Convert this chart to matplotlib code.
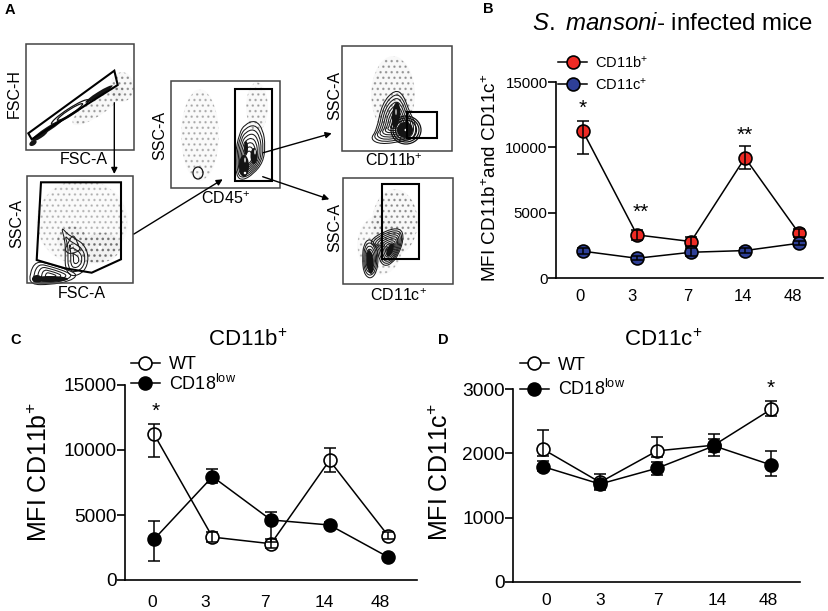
import numpy as np
import matplotlib
matplotlib.use('Agg')
import matplotlib.pyplot as plt
from matplotlib.patches import Ellipse, PathPatch, Polygon, Rectangle
from matplotlib.path import Path

plt.rcParams['font.family'] = ['Liberation Sans', 'DejaVu Sans']
plt.rcParams['mathtext.fontset'] = 'custom'
plt.rcParams['mathtext.rm'] = 'Liberation Sans'
plt.rcParams['mathtext.it'] = 'Liberation Sans:italic'
plt.rcParams['mathtext.bf'] = 'Liberation Sans:bold'
plt.rcParams['mathtext.default'] = 'regular'

W, H = 829, 611

# ---- data ----
days = ['0', '3', '7', '14', '48']
idx = [0, 1, 2, 3, 4]

wt_cd11b = [11220, 3300, 2790, 9200, 3420]
wt_cd11b_lo = [1760, 400, 350, 870, 300]
wt_cd11b_hi = [770, 400, 350, 920, 300]

wt_cd11c_b = [2050, 1510, 1970, 2100, 2660]
wt_cd11c_b_err = [250, 150, 300, 200, 150]

ko_cd11b = [3130, 7950, 4620, 4230, 1770]
ko_cd11b_lo = [1690, 500, 1670, 200, 150]
ko_cd11b_hi = [1410, 590, 640, 200, 150]

wt_cd11c = [2064, 1550, 2038, 2127, 2683]
wt_cd11c_lo = [100, 120, 90, 165, 110]
wt_cd11c_hi = [306, 130, 220, 166, 125]

ko_cd11c = [1794, 1523, 1768, 2116, 1820]
ko_cd11c_lo = [70, 70, 100, 100, 180]
ko_cd11c_hi = [85, 70, 95, 100, 220]

# flow plots of panel A, in picture pixels
flow_boxes = [(26, 44, 134, 150), (27, 176, 133, 283), (171, 81, 280, 188),
              (342, 46, 452, 151), (343, 178, 453, 284)]
gate_fsc = [(28.3, 133.3), (114.3, 70.7), (117.7, 85), (31.7, 139.3)]
gate_ssc = [(41, 182.3), (121, 182.3), (121, 259.3), (91.7, 272.7), (65, 268.3), (36.7, 260)]
gate_cd45 = [(235, 89.3), (272.3, 89.3), (272.3, 181), (235, 181)]
gate_cd11b = [(406.7, 112.3), (437.3, 112.3), (437.3, 138.3), (406.7, 138.3)]
gate_cd11c = [(382.3, 184.3), (419, 184.3), (419, 259.3), (382.3, 259.3)]
gates = [gate_fsc, gate_ssc, gate_cd45, gate_cd11b, gate_cd11c]

flow_arrows = [((114.3, 102.7), (114.3, 174)), ((134, 234), (222.7, 179.3)),
               ((263.3, 152.7), (331.7, 133.3)), ((262.7, 176.7), (329.3, 199.3))]

# speckle clouds: cx, cy, w, h, angle, alpha
clouds = [(98, 106, 62, 18, -35, .5), (122, 87, 24, 30, 0, .6),
          (82, 222, 92, 86, 0, .35), (100, 248, 42, 30, -10, .75), (72, 240, 30, 28, 0, .6),
          (200, 135, 38, 92, 0, .4), (257, 107, 22, 50, 0, .45),
          (393, 95, 44, 78, 0, .55), (395, 222, 46, 66, 0, .6), (380, 245, 46, 60, 0, .35)]

# contour outlines: points, centre, number of rings
contours = [
    ([(240, 135), (245, 127), (255, 123), (262, 132), (264, 147), (262, 162), (253, 173),
      (243, 179), (237, 175), (236, 155)], (248, 160), 8),
    ([(372, 138), (378, 130), (383, 105), (395, 92), (403, 97), (408, 112), (415, 125),
      (413, 137), (402, 140), (382, 143)], (396, 124), 8),
    ([(370, 242), (385, 232), (400, 229), (403, 239), (398, 254), (392, 262), (385, 265),
      (380, 259), (378, 247)], (391, 247), 8),
    ([(364, 246), (369, 240), (375, 245), (378, 258), (376, 272), (370, 278), (364, 272),
      (363, 258)], (370, 260), 6),
    ([(62, 229), (68, 236), (75, 240), (84, 246), (88, 258), (84, 271), (72, 276), (66, 268),
      (66, 255), (66, 242)], (76, 260), 4),
    ([(72, 236), (75, 238), (78, 246), (80, 250), (70, 254), (65, 250), (68, 244)], (71, 247), 2),
    ([(37, 262), (50, 265), (66, 270), (76, 275), (68, 281), (50, 284), (32, 284), (31, 274)], (50, 276), 5),
]
# filled dark parts: cx, cy, w, h, angle
dark_blobs = [(48, 129, 36, 4.5, -33), (40, 136, 18, 4.5, -33), (99, 94, 32, 4.5, -32),
              (33, 143, 8, 5, -33),
              (244, 166, 10, 22, 0), (254, 156, 7, 16, 0), (246, 148, 4, 14, 0),
              (396, 115, 8, 26, 5), (405, 130, 16, 16, 0),
              (370, 262, 7, 24, -5), (390, 250, 6, 14, 20),
              (50, 279, 36, 6, 0), (37, 279, 10, 8, 0)]
white_specks = [(245, 160, 1.5, 5), (245, 173, 2.5, 2.5), (255, 152, 1.5, 5),
                (406, 130, 3, 2.5), (396, 112, 1.2, 6),
                (72, 246, 2, 3), (100, 248, 4, 4), (76, 261, 4, 2.5)]
small_rings = [(198, 173, 10, 12), (406, 130, 30, 28), (406, 130, 26, 24), (406, 130, 21, 20)]
band_rings = [(70, 112, 44, 7), (70, 112, 30, 4.5)]

# labels of panel A: text, x, y, rotation
flow_labels = [('FSC-H', 14, 94, 90), ('FSC-A', 84, 160, 0), ('FSC-A', 82, 294, 0),
               ('SSC-A', 17, 224, 90), ('SSC-A', 160, 135, 90), ('CD45$^{+}$', 225, 199, 0),
               ('SSC-A', 335, 95, 90), ('CD11b$^{+}$', 394, 161, 0),
               ('SSC-A', 335, 227, 90), ('CD11c$^{+}$', 398, 296, 0)]
panel_letters = [('A', 10, 10), ('B', 488, 9), ('C', 16, 340), ('D', 443, 340)]


def px_axes(fig, left, top, right, bottom):
    return fig.add_axes([left / W, 1 - bottom / H, (right - left) / W, (bottom - top) / H])


def smooth(points, centre=None, f=1.0):
    p = np.array(points, dtype=float)
    if centre is not None:
        p = np.array(centre) + (p - np.array(centre)) * f
    nxt = np.roll(p, -1, axis=0)
    mid = (p + nxt) / 2
    verts = [mid[-1]]
    codes = [Path.MOVETO]
    for a, b in zip(p, mid):
        verts += [a, b]
        codes += [Path.CURVE3, Path.CURVE3]
    return Path(verts, codes)


def style_axes(ax, x0, step, right, left, ticks, labels, ymax, yticks, tick_fs, x_fs, xpad):
    ax.set_xlim((left - x0) / step, (right - x0) / step)
    ax.set_ylim(0, ymax)
    ax.patch.set_alpha(0)
    for s in ['top', 'right']:
        ax.spines[s].set_visible(False)
    for s in ['left', 'bottom']:
        ax.spines[s].set_linewidth(1.2)
    ax.set_yticks(yticks)
    ax.set_xticks([(t - x0) / step for t in ticks])
    ax.set_xticklabels(labels, fontsize=x_fs)
    ax.tick_params(axis='x', length=0, pad=xpad)
    ax.tick_params(axis='y', length=5.5, width=1.2, pad=0.5, labelsize=tick_fs)


def series(ax, y, lo, hi, face, label):
    line, = ax.plot(idx, y, color='black', lw=1.1, marker='o', ms=9.3, mfc=face, mec='black',
                    mew=1.2, label=label, zorder=3, clip_on=False)
    ax.errorbar(idx, y, yerr=[lo, hi], fmt='none', ecolor='black', elinewidth=1.1, capsize=4.5,
                capthick=1.1, zorder=4, clip_on=False)
    return line


fig = plt.figure(figsize=(W / 100, H / 100), dpi=100)
over = fig.add_axes([0, 0, 1, 1])
over.set_xlim(0, W)
over.set_ylim(H, 0)
over.axis('off')

# ---- panel A ----
for cx, cy, w, h, ang, a in clouds:
    over.add_patch(Ellipse((cx, cy), w, h, angle=ang, fc='#888888', ec='none', alpha=a * .1))
    over.add_patch(Ellipse((cx, cy), w * .98, h * .98, angle=ang, fill=False, ec='#666666', lw=0,
                           hatch='...', alpha=a))
for pts, centre, n in contours:
    for f in np.linspace(1.08, .25, n):
        over.add_patch(PathPatch(smooth(pts, centre, f), fill=False, ec='#1a1a1a', lw=.75))
for cx, cy, w, h, ang in dark_blobs:
    over.add_patch(Ellipse((cx, cy), w, h, angle=ang, fc='#141414', ec='none'))
for cx, cy, w, h in small_rings:
    over.add_patch(Ellipse((cx, cy), w, h, fill=False, ec='#111111', lw=.9))
for cx, cy, w, h in band_rings:
    over.add_patch(Ellipse((cx, cy), w, h, angle=-33, fill=False, ec='#111111', lw=.9))
for cx, cy, w, h in white_specks:
    over.add_patch(Ellipse((cx, cy), w, h, fc='white', ec='none'))
for x0, y0, x1, y1 in flow_boxes:
    over.add_patch(Rectangle((x0, y0), x1 - x0, y1 - y0, fill=False, ec='#444444', lw=1.1))
for g in gates:
    over.add_patch(Polygon(g, closed=True, fill=False, ec='black', lw=1.5, joinstyle='miter'))
for start, end in flow_arrows:
    over.annotate('', xy=end, xytext=start,
                  arrowprops=dict(arrowstyle='-|>', color='black', lw=1.0, mutation_scale=9,
                                  shrinkA=0, shrinkB=0))
for txt, x, y, rot in flow_labels:
    over.text(x, y, txt, fontsize=11.5, rotation=rot, ha='center', va='center')
for txt, x, y in panel_letters:
    over.text(x, y, txt, fontsize=10.5, fontweight='bold', ha='center', va='center')

# ---- panel B ----
axb = px_axes(fig, 556, 82, 823, 278)
style_axes(axb, 583, 54, 823, 556, [580, 632, 688, 743, 793], days, 15000,
           [0, 5000, 10000, 15000], 10.8, 12, 8)
l1 = series(axb, wt_cd11b, wt_cd11b_lo, wt_cd11b_hi, '#ee2a24', 'CD11b$^{+}$')
l2 = series(axb, wt_cd11c_b, wt_cd11c_b_err, wt_cd11c_b_err, '#2e3f97', 'CD11c$^{+}$')
over.text(673, 24, r'$\mathit{S.\ mansoni}$- infected mice', fontsize=17.3, ha='center', va='center')
over.text(491, 178, 'MFI CD11b$^{+}$and CD11c$^{+}$', fontsize=13.6, rotation=90, ha='center', va='center')
axb.legend(handles=[l1, l2], loc='center left', bbox_to_anchor=(558, 73.5), bbox_transform=over.transData,
           frameon=False, fontsize=10.5, handlelength=2.0, handletextpad=.55, labelspacing=.42,
           borderpad=0, borderaxespad=0)
for x, y, s in [(0, 13000, '*'), (1.07, 5050, '**'), (3, 10940, '**')]:
    axb.text(x, y, s, fontsize=15, ha='center', va='center', clip_on=False)

# ---- panel C ----
axc = px_axes(fig, 125, 385, 417, 580)
style_axes(axc, 154, 58.5, 417, 125, [152, 205, 265, 324, 380], days, 15000,
           [0, 5000, 10000, 15000], 13.8, 12.5, 11)
l1 = series(axc, wt_cd11b, wt_cd11b_lo, wt_cd11b_hi, 'white', 'WT')
l2 = series(axc, ko_cd11b, ko_cd11b_lo, ko_cd11b_hi, 'black', 'CD18$^{low}$')
over.text(248, 340, 'CD11b$^{+}$', fontsize=16, ha='center', va='center')
over.text(40, 472, 'MFI CD11b$^{+}$', fontsize=18, rotation=90, ha='center', va='center')
axc.legend(handles=[l1, l2], loc='center left', bbox_to_anchor=(131, 375), bbox_transform=over.transData,
           frameon=False, fontsize=13, handlelength=1.6, handletextpad=.5, labelspacing=.02,
           borderpad=0, borderaxespad=0)
axc.text(0.03, 13000, '*', fontsize=15, ha='center', va='center', clip_on=False)

# ---- panel D ----
axd = px_axes(fig, 513, 389, 800, 582)
style_axes(axd, 543, 57, 800, 513, [546, 600, 658, 717, 768], days, 3000,
           [0, 1000, 2000, 3000], 13.8, 12.5, 8)
l1 = series(axd, wt_cd11c, wt_cd11c_lo, wt_cd11c_hi, 'white', 'WT')
l2 = series(axd, ko_cd11c, ko_cd11c_lo, ko_cd11c_hi, 'black', 'CD18$^{low}$')
over.text(663, 340, 'CD11c$^{+}$', fontsize=16, ha='center', va='center')
over.text(441, 472, 'MFI CD11c$^{+}$', fontsize=18, rotation=90, ha='center', va='center')
axd.legend(handles=[l1, l2], loc='center left', bbox_to_anchor=(520, 378), bbox_transform=over.transData,
           frameon=False, fontsize=13, handlelength=1.6, handletextpad=.5, labelspacing=.3,
           borderpad=0, borderaxespad=0)
axd.text(4, 3010, '*', fontsize=15, ha='center', va='center', clip_on=False)

fig.savefig('out.png', dpi=100)
